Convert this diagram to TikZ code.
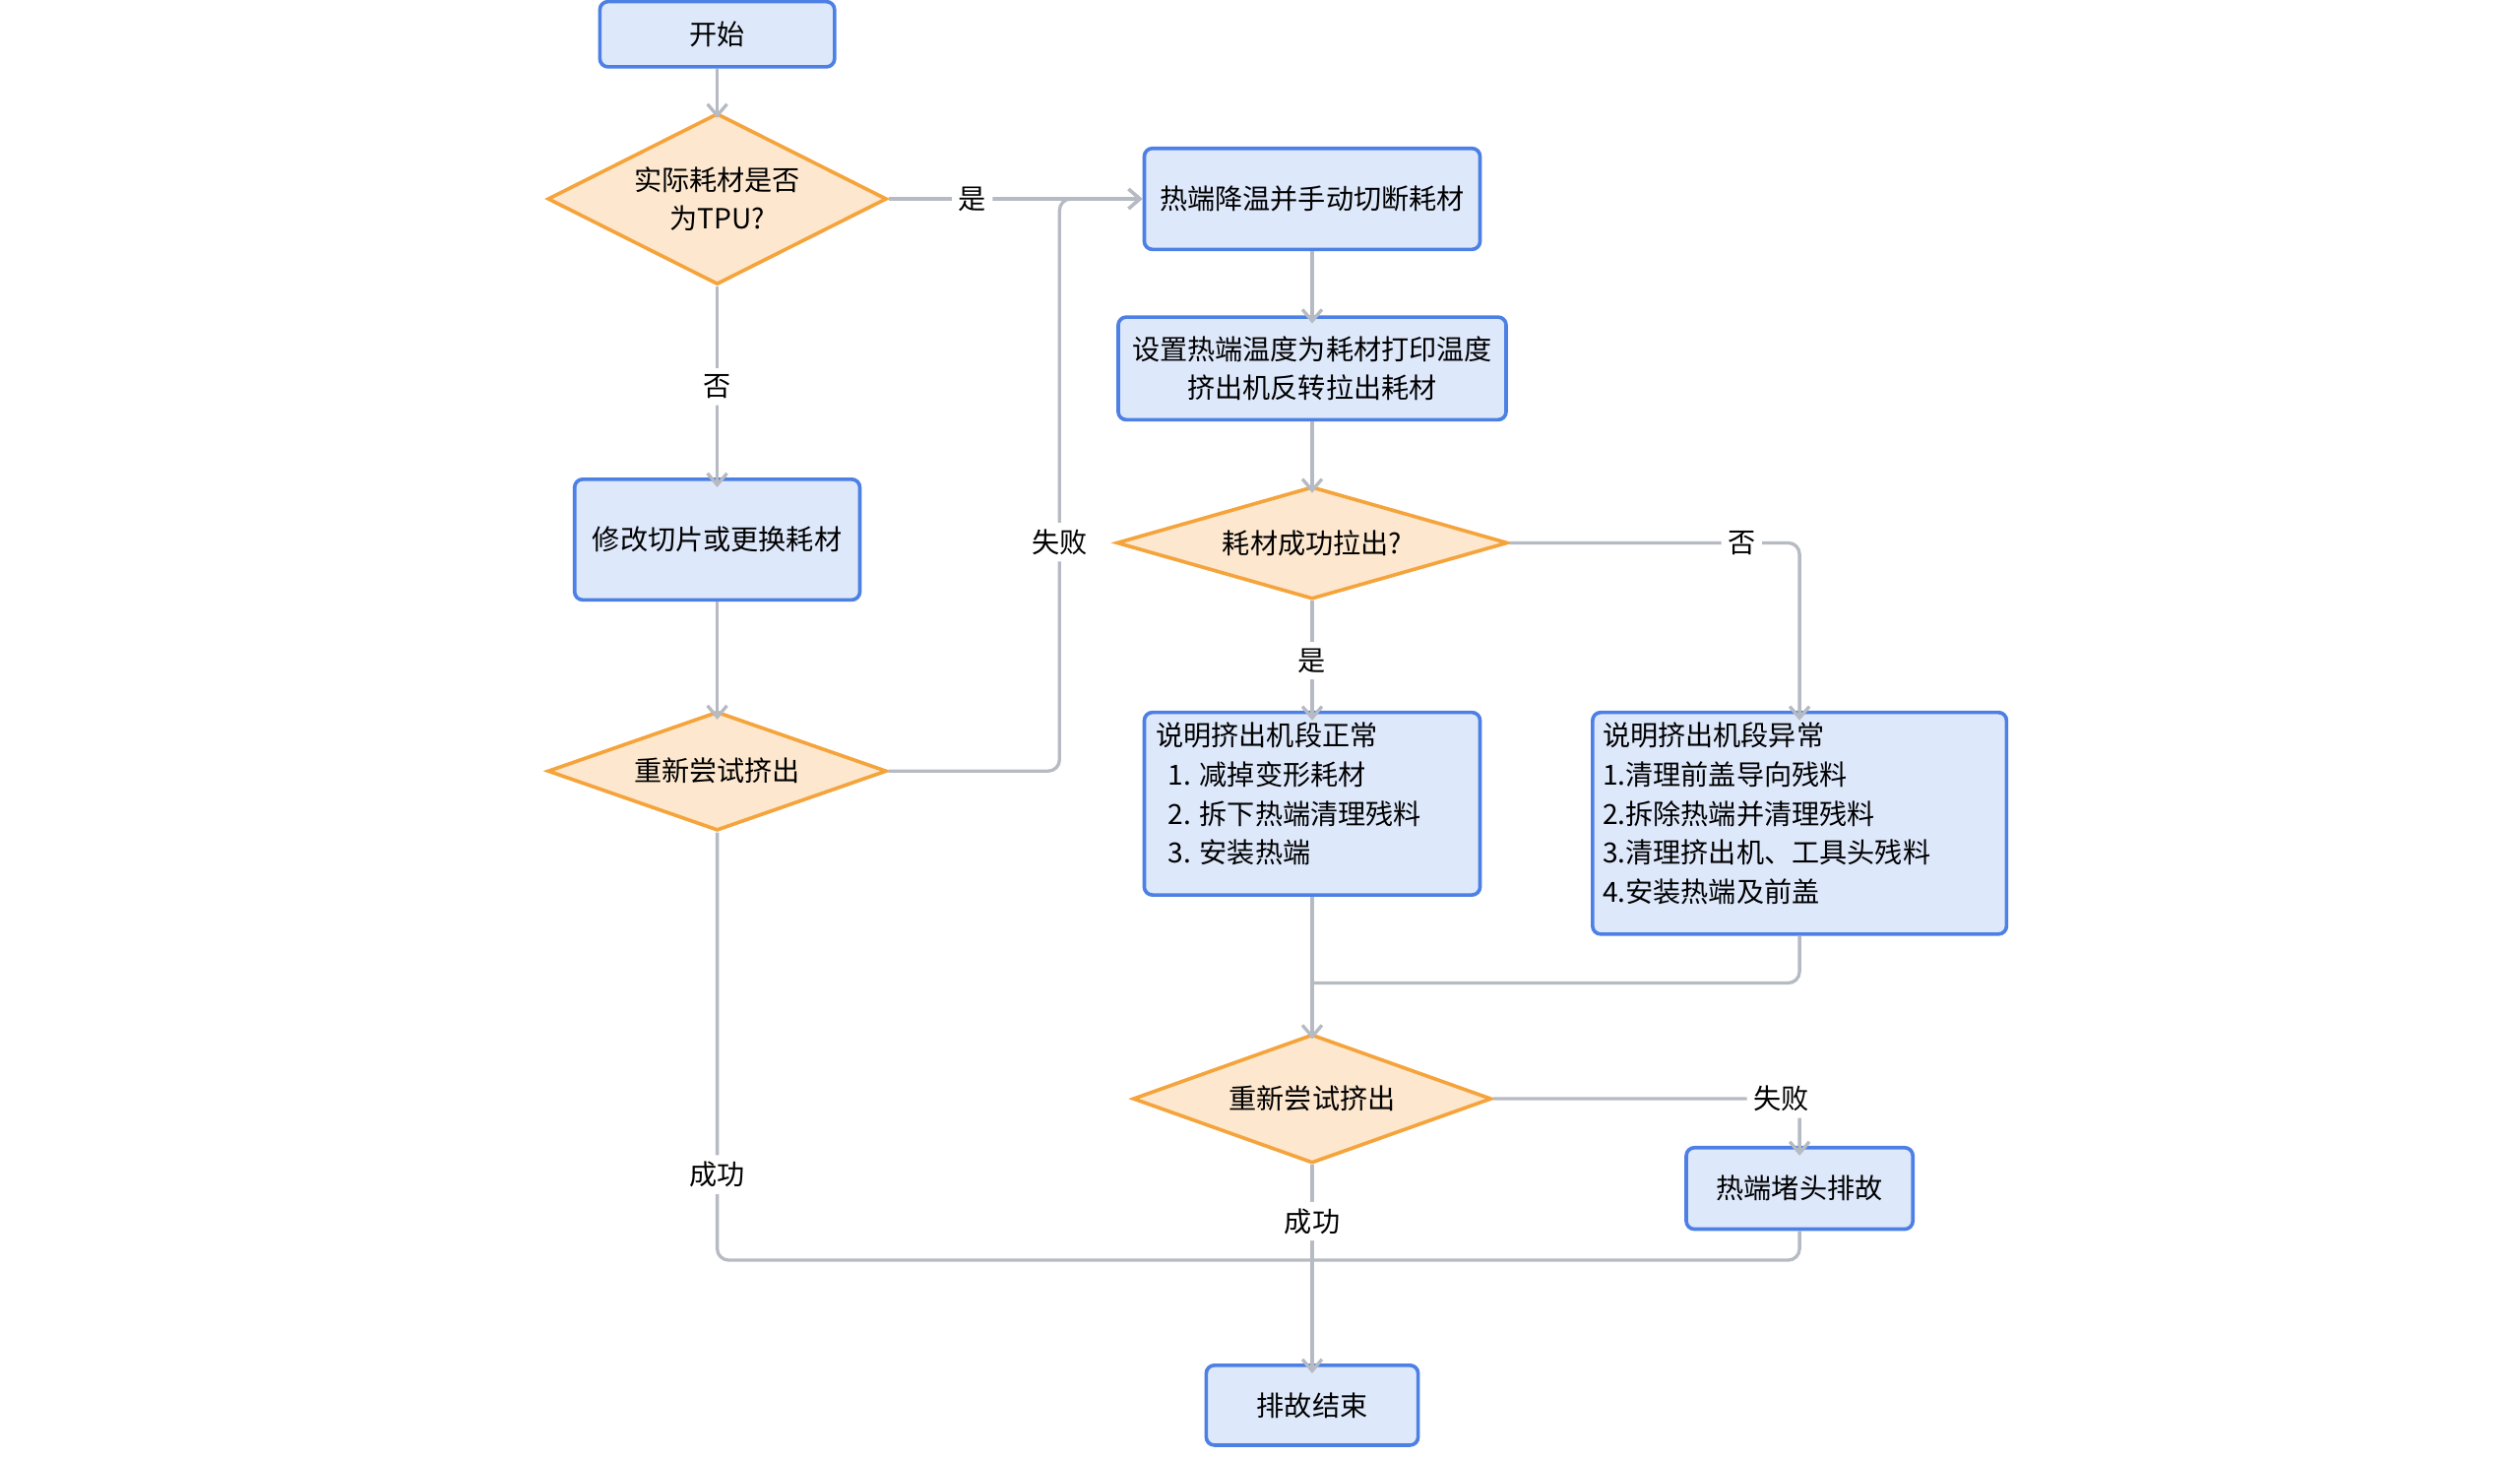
\documentclass[tikz,border=0pt]{standalone}
\usepackage{fontspec}
\setmainfont{Noto Sans CJK SC}
\usetikzlibrary{shapes.geometric,arrows.meta}
\definecolor{bfill}{HTML}{DEE8FB}
\definecolor{bdraw}{HTML}{4D80E4}
\definecolor{dfill}{HTML}{FDE7CE}
\definecolor{ddraw}{HTML}{F5A43C}
\definecolor{ln}{HTML}{B6BAC2}
\begin{document}
\begin{tikzpicture}[x=1pt,y=-1pt,
 every node/.style={font=\fontsize{17}{24}\selectfont},
 box/.style={draw=bdraw,fill=bfill,line width=2.2pt,rounded corners=5pt,inner sep=0pt},
 dia/.style={diamond,draw=ddraw,fill=dfill,line width=2.2pt,inner sep=0pt,align=center},
 lab/.style={fill=white,inner sep=4pt},
 ar/.style={draw=ln,line width=2pt,rounded corners=7pt,-{Straight Barb[length=7pt,width=12pt]}},
 ln/.style={draw=ln,line width=2pt,rounded corners=7pt}]
\useasboundingbox (0,0) rectangle (1546,894);
\node[box,minimum width=144pt,minimum height=40pt] (start) at (440,21) {开始};
\node[dia,minimum width=208pt,minimum height=105pt,aspect=2] (d1) at (440,122) {实际耗材是否\\为TPU?};
\node[box,minimum width=175pt,minimum height=74pt] (mod) at (440,331) {修改切片或更换耗材};
\node[dia,minimum width=208pt,minimum height=73pt,aspect=2.85] (d2) at (440,473) {重新尝试挤出};
\node[box,minimum width=206pt,minimum height=62pt] (cool) at (805,122) {热端降温并手动切断耗材};
\node[box,minimum width=238pt,minimum height=63pt,align=center] (set) at (805,226) {设置热端温度为耗材打印温度\\挤出机反转拉出耗材};
\node[dia,minimum width=240pt,minimum height=69pt,aspect=3.48] (d3) at (805,333) {耗材成功拉出?};
\node[box,minimum width=206pt,minimum height=112pt] (ok) at (805,493) {};
\node[anchor=north west,align=left,inner sep=0pt] at (709,443) {说明挤出机段正常\\\ \ 1. 减掉变形耗材\\\ \ 2. 拆下热端清理残料\\\ \ 3. 安装热端};
\node[box,minimum width=254pt,minimum height=136pt] (bad) at (1104,505) {};
\node[anchor=north west,align=left,inner sep=0pt] at (983,443) {说明挤出机段异常\\1.清理前盖导向残料\\2.拆除热端并清理残料\\3.清理挤出机、工具头残料\\4.安装热端及前盖};
\node[dia,minimum width=220pt,minimum height=79pt,aspect=2.8] (d4) at (805,674) {重新尝试挤出};
\node[box,minimum width=139pt,minimum height=50pt] (clog) at (1104,729) {热端堵头排故};
\node[box,minimum width=130pt,minimum height=49pt] (end) at (805,862) {排故结束};
\coordinate (j1) at (805,603);
\coordinate (j2) at (805,773);
\draw[ar] (start) -- ([yshift=-4pt]d1.north);
\draw[ar] (d1.east) -- (cool.west) node[lab,pos=0.33] {是};
\draw[ar] (d1.south) -- ([yshift=-6pt]mod.north) node[lab,midway] {否};
\draw[ar] (mod.south) -- ([yshift=-6pt]d2.north);
\draw[ar] (d2.east) -| (650,122) node[lab,pos=0.7] {失败} -- (cool.west);
\draw[ar] (cool.south) -- ([yshift=-5pt]set.north);
\draw[ar] (set.south) -- ([yshift=-5pt]d3.north);
\draw[ar] (d3.south) -- ([yshift=-6pt]ok.north) node[lab,midway] {是};
\draw[ar] (d3.east) -| ([yshift=-6pt]bad.north) node[lab,pos=0.4] {否};
\draw[ar] (ok.south) -- ([yshift=-4pt]d4.north);
\draw[ln] (bad.south) |- (j1);
\draw[ar] (d4.east) -| ([yshift=-6pt]clog.north) node[lab,pos=0.47] {失败};
\draw[ar] (d4.south) -- ([yshift=-6pt]end.north) node[lab,pos=0.27] {成功};
\draw[ln] (d2.south) |- (j2) node[lab,pos=0.4] {成功};
\draw[ln] (clog.south) |- (j2);
\end{tikzpicture}
\end{document}
